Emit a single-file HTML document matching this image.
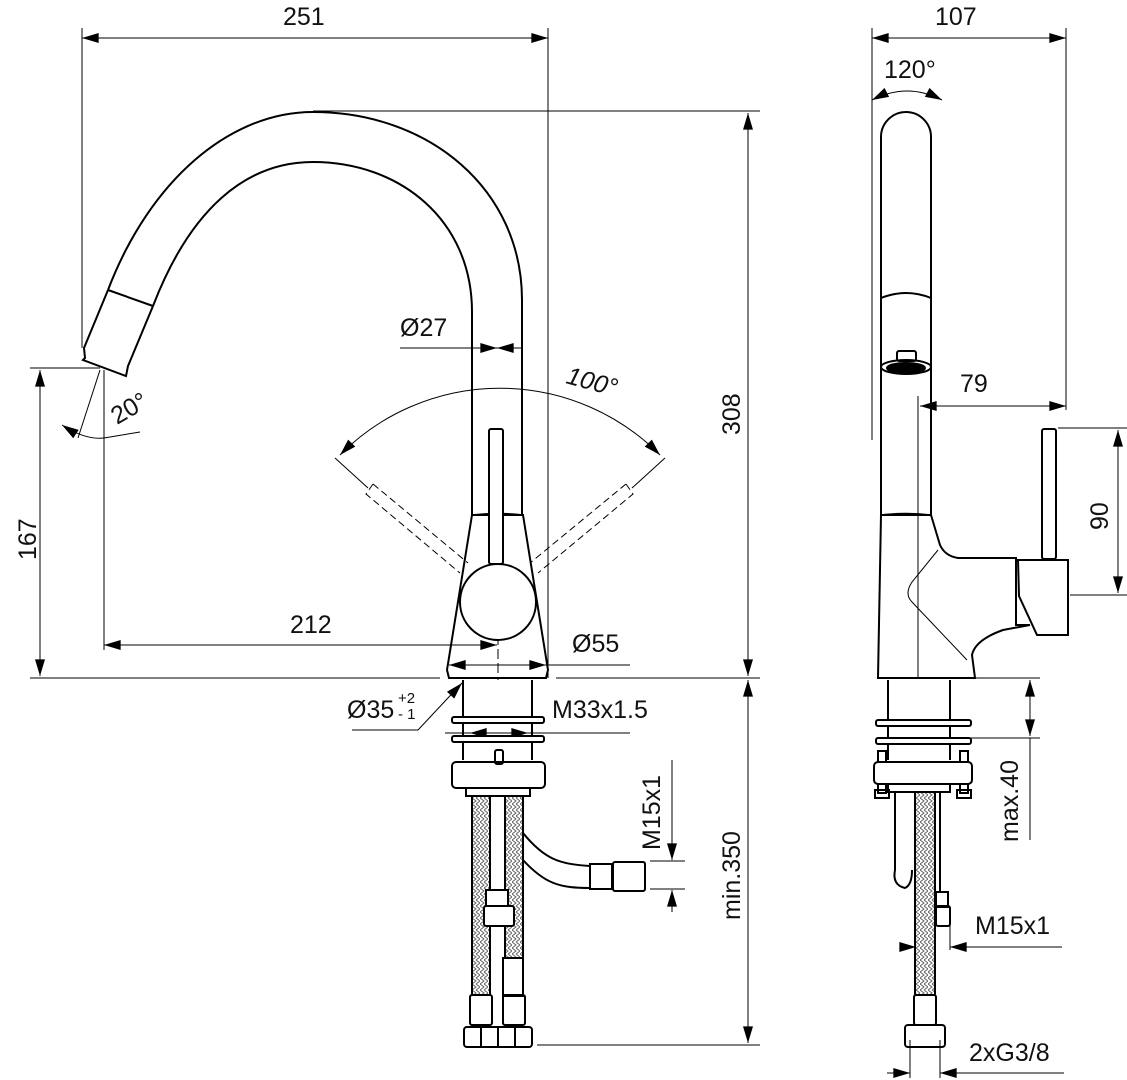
<!DOCTYPE html>
<html><head><meta charset="utf-8"><style>
html,body{margin:0;padding:0;background:#fff}
svg{display:block}
text{font-family:"Liberation Sans",sans-serif;fill:#111}
</style></head><body>
<svg width="1127" height="1080" viewBox="0 0 1127 1080" xmlns="http://www.w3.org/2000/svg">
<defs>
<marker id="a" viewBox="0 0 10 6" refX="10" refY="3" markerWidth="18" markerHeight="10" markerUnits="userSpaceOnUse" orient="auto-start-reverse"><path d="M0,0L10,3L0,6z" fill="#000"/></marker>
<pattern id="h" width="8" height="6" patternUnits="userSpaceOnUse"><path d="M0,0L4,3L0,6M4,0L8,3L4,6" stroke="#666" stroke-width="1" fill="none"/></pattern>
</defs>
<g fill="none" stroke="#000" stroke-width="1">
<line x1="82" y1="28" x2="82" y2="348"/>
<line x1="548" y1="28" x2="548" y2="678"/>
<line x1="313" y1="111" x2="760" y2="111"/>
<line x1="30" y1="368" x2="100" y2="368"/>
<line x1="104" y1="370" x2="104" y2="650"/>
<line x1="30" y1="678" x2="440" y2="678"/>
<line x1="556" y1="678" x2="760" y2="678"/>
<line x1="537" y1="1045" x2="760" y2="1045"/>
<line x1="82" y1="38" x2="548" y2="38" marker-start="url(#a)" marker-end="url(#a)"/>
<line x1="40" y1="370" x2="40" y2="676" marker-start="url(#a)" marker-end="url(#a)"/>
<line x1="748" y1="113" x2="748" y2="676" marker-start="url(#a)" marker-end="url(#a)"/>
<line x1="748" y1="680" x2="748" y2="1043" marker-start="url(#a)" marker-end="url(#a)"/>
<line x1="104" y1="645" x2="497" y2="645" marker-start="url(#a)" marker-end="url(#a)"/>
<line x1="449" y1="665" x2="546" y2="665" marker-start="url(#a)" marker-end="url(#a)"/>
<line x1="546" y1="665" x2="630" y2="665"/>
<line x1="498" y1="635" x2="498" y2="680" stroke-dasharray="10,4"/>
<line x1="400" y1="348" x2="472" y2="348"/>
<line x1="472" y1="348" x2="497" y2="348" marker-end="url(#a)"/>
<line x1="522" y1="348" x2="497" y2="348" marker-end="url(#a)"/>
<line x1="100" y1="370" x2="78" y2="438"/>
<path d="M62,425 Q85,440 104,438" marker-start="url(#a)"/>
<path d="M104,438 L140,432" />
<path d="M340,455 A225,225 0 0 1 660,455" marker-start="url(#a)" marker-end="url(#a)"/>
<line x1="335" y1="458" x2="368" y2="488"/>
<line x1="665" y1="458" x2="632" y2="488"/>
<g stroke-dasharray="7,4">
<path d="M373,484 L366,494 L460,573"/>
<path d="M373,484 L468,563"/>
<path d="M626,484 L633,494 L538,573"/>
<path d="M626,484 L530,563"/>
</g>
<path d="M352,730 L418,730 L462,683" marker-end="url(#a)"/>
<line x1="445" y1="733" x2="630" y2="733"/>
<line x1="470" y1="733" x2="497" y2="733" marker-start="url(#a)"/>
<line x1="500" y1="733" x2="528" y2="733" marker-end="url(#a)"/>
<line x1="672" y1="760" x2="672" y2="860" marker-end="url(#a)"/>
<line x1="672" y1="912" x2="672" y2="890" marker-end="url(#a)"/>
<line x1="650" y1="861" x2="685" y2="861"/>
<line x1="650" y1="889" x2="685" y2="889"/>
</g>
<rect x="472" y="795" width="18" height="200" fill="url(#h)"/>
<rect x="505" y="795" width="18" height="163" fill="url(#h)"/>
<rect x="915" y="792" width="20" height="203" fill="url(#h)"/>
<g fill="none" stroke="#000" stroke-width="2">
<path d="M108,290 C150,180 230,112 313,112 C430,112 522,190 522,300 L522,515"/>
<path d="M153,306 C190,210 245,162 313,162 C400,162 472,220 472,312 L472,515"/>
<path d="M108,290 L84,348 L85,358 L83,360 L126,376 L128,366 L153,306"/>
<line x1="108" y1="290" x2="153" y2="306"/>
<path d="M472,515 L523,515 L548,670 L546,678 L449,678 L447,670 Z"/>
<path d="M472,515 Q498,512 523,515" stroke-width="1.5"/>
<rect x="489" y="429" width="14" height="135" rx="2" fill="#fff"/>
<circle cx="498" cy="602" r="38" fill="#fff"/>
<line x1="463" y1="680" x2="463" y2="760"/>
<line x1="532" y1="680" x2="532" y2="760"/>
<rect x="452" y="717" width="92" height="6" rx="2" fill="#fff"/>
<rect x="452" y="736" width="92" height="6" rx="2" fill="#fff"/>
<rect x="452" y="762" width="93" height="26" rx="4" fill="#fff"/>
<rect x="466" y="788" width="64" height="8"/>
<rect x="495" y="750" width="8" height="14" rx="2"/>
<line x1="472" y1="795" x2="472" y2="995"/><line x1="490" y1="795" x2="490" y2="995"/>
<line x1="505" y1="795" x2="505" y2="958"/><line x1="523" y1="795" x2="523" y2="995"/>
<path d="M523,833 C545,860 560,864 590,866 M523,860 C545,884 560,888 590,888"/>
<rect x="590" y="864" width="22" height="25"/>
<rect x="613" y="862" width="32" height="29" rx="2"/>
<rect x="486" y="890" width="22" height="18" fill="#fff"/>
<rect x="484" y="906" width="30" height="20" rx="2" fill="#fff"/>
<rect x="503" y="958" width="20" height="38" fill="#fff"/>
<rect x="470" y="995" width="22" height="30" rx="2"/>
<rect x="503" y="995" width="22" height="30" rx="2"/>
<rect x="464" y="1027" width="68" height="20" rx="3"/>
<line x1="481" y1="1027" x2="481" y2="1047"/><line x1="498" y1="1027" x2="498" y2="1047"/><line x1="515" y1="1027" x2="515" y2="1047"/>
</g>
<g fill="none" stroke="#000" stroke-width="1">
<line x1="872" y1="28" x2="872" y2="440"/>
<line x1="1066" y1="28" x2="1066" y2="410"/>
<line x1="872" y1="38" x2="1066" y2="38" marker-start="url(#a)" marker-end="url(#a)"/>
<path d="M872,100 Q907,82 942,100" marker-start="url(#a)" marker-end="url(#a)"/>
<line x1="918" y1="396" x2="918" y2="678"/>
<line x1="920" y1="406" x2="1066" y2="406" marker-start="url(#a)"/>
<line x1="1040" y1="406" x2="1066" y2="406" marker-end="url(#a)"/>
<line x1="1058" y1="428" x2="1127" y2="428"/>
<line x1="1070" y1="595" x2="1127" y2="595"/>
<line x1="1118" y1="430" x2="1118" y2="593" marker-start="url(#a)" marker-end="url(#a)"/>
<line x1="960" y1="678" x2="1040" y2="678"/>
<line x1="965" y1="738" x2="1040" y2="738"/>
<line x1="1030" y1="680" x2="1030" y2="736" marker-start="url(#a)" marker-end="url(#a)"/>
<line x1="1030" y1="738" x2="1030" y2="840"/>
<line x1="900" y1="947" x2="916" y2="947" marker-end="url(#a)"/>
<line x1="970" y1="947" x2="950" y2="947" marker-end="url(#a)"/>
<line x1="950" y1="947" x2="1062" y2="947"/>
<line x1="950" y1="920" x2="950" y2="950"/>
<line x1="887" y1="1073" x2="910" y2="1073" marker-end="url(#a)"/>
<line x1="965" y1="1073" x2="940" y2="1073" marker-end="url(#a)"/>
<line x1="940" y1="1073" x2="1064" y2="1073"/>
<line x1="910" y1="1040" x2="910" y2="1078"/><line x1="940" y1="1040" x2="940" y2="1078"/>
</g>
<g fill="none" stroke="#000" stroke-width="2">
<path d="M881,515 L881,137 A25,25 0 0 1 931,137 L931,515"/>
<path d="M881,298 Q906,288 931,298"/>
<rect x="897" y="351" width="19" height="10" rx="2"/>
<ellipse cx="906" cy="367" rx="25" ry="7"/>
<ellipse cx="906" cy="368" rx="19" ry="5" fill="#000"/>
<path d="M881,515 L931,515 L940,545 Q945,556 958,558 L1016,558 L1016,625 L1030,625 L1003,630 Q975,640 972,655 L975,678 L878,678 Z"/>
<path d="M881,515 Q906,512 931,515" stroke-width="1.5"/>
<path d="M938,550 L912,582 Q904,594 912,602 L967,660" stroke-width="1"/>
<path d="M1018,560 L1068,560 L1068,635 L1037,635 L1019,596 Z"/>
<rect x="1042" y="429" width="14" height="130" rx="2" fill="#fff"/>
<line x1="888" y1="680" x2="888" y2="760"/>
<line x1="950" y1="680" x2="950" y2="760"/>
<rect x="876" y="720" width="95" height="6" rx="2" fill="#fff"/>
<rect x="876" y="738" width="95" height="6" rx="2" fill="#fff"/>
<rect x="878" y="751" width="8" height="42"/><rect x="960" y="751" width="8" height="42"/>
<rect x="874" y="762" width="98" height="22" rx="4" fill="#fff"/>
<rect x="875" y="790" width="14" height="8"/><rect x="957" y="790" width="14" height="8"/>
<rect x="888" y="784" width="62" height="8"/>
<path d="M895,792 L895,870 Q892,885 905,888 Q912,885 912,870"/>
<line x1="915" y1="792" x2="915" y2="995"/><line x1="935" y1="792" x2="935" y2="995"/>
<line x1="940" y1="792" x2="940" y2="892"/>
<rect x="936" y="892" width="12" height="15"/><rect x="936" y="906" width="14" height="20" rx="2"/>
<rect x="914" y="995" width="22" height="30" rx="2" fill="#fff"/>
<rect x="905" y="1025" width="40" height="22" rx="3"/>
</g>
<g font-size="25">
<text x="283" y="25">251</text>
<text x="935" y="25">107</text>
<text x="884" y="78">120°</text>
<text x="400" y="336">Ø27</text>
<text x="960" y="392">79</text>
<text x="290" y="633">212</text>
<text x="572" y="652">Ø55</text>
<text x="347" y="718">Ø35</text>
<text x="398" y="703" font-size="15">+2</text>
<text x="398" y="719" font-size="15">- 1</text>
<text x="552" y="718">M33x1.5</text>
<text x="975" y="934">M15x1</text>
<text x="969" y="1061">2xG3/8</text>
<text transform="translate(565,383) rotate(15)" font-style="italic">100°</text>
<text transform="translate(117,425) rotate(-30)">20°</text>
<text transform="translate(36,560) rotate(-90)">167</text>
<text transform="translate(740,435) rotate(-90)">308</text>
<text transform="translate(740,920) rotate(-90)">min.350</text>
<text transform="translate(660,850) rotate(-90)">M15x1</text>
<text transform="translate(1108,530) rotate(-90)">90</text>
<text transform="translate(1018,842) rotate(-90)">max.40</text>
</g>
</svg>
</body></html>
